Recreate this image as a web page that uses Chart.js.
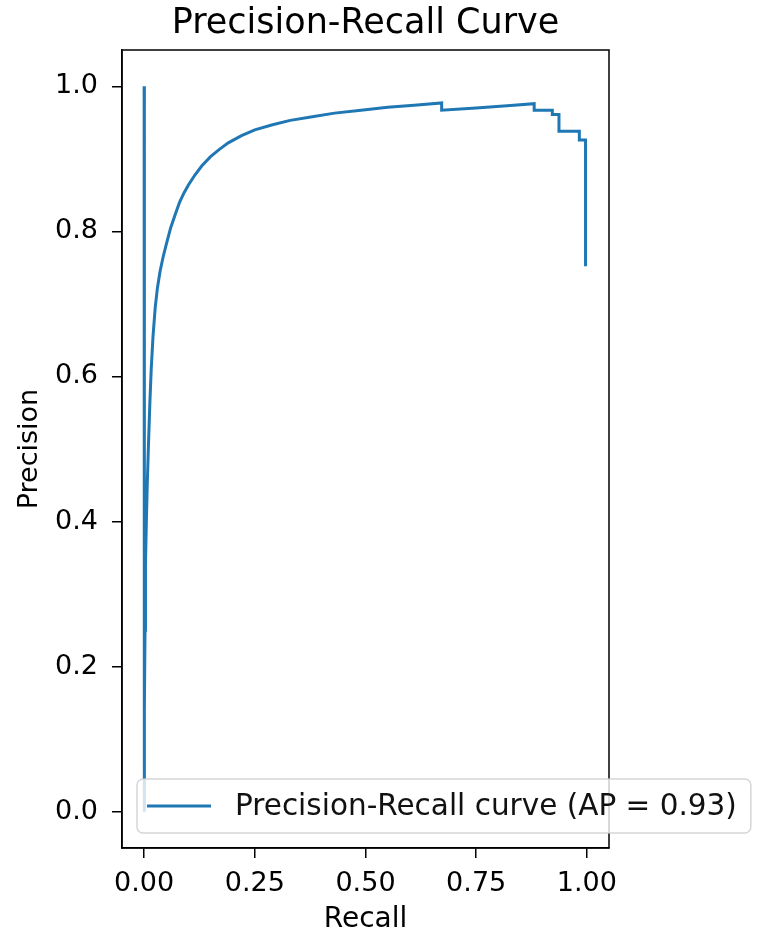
<!DOCTYPE html>
<html>
<head>
<meta charset="utf-8">
<script src="https://cdn.jsdelivr.net/npm/chart.js@4"></script>
<style>
  html, body { margin: 0; padding: 0; background: #fff; }
  #wrap { width: 764px; height: 942px; }
</style>
</head>
<body>
<div id="wrap"><canvas id="myChart"></canvas></div>
<script>
// points of the curve
const recall = [0, 0, 0.001, 0.002, 0.003, 0.005, 0.007, 0.010, 0.013, 0.016, 0.020, 0.025, 0.030, 0.036,
    0.043, 0.050, 0.060, 0.070, 0.080, 0.090, 0.100, 0.115, 0.130, 0.150, 0.170, 0.190, 0.220, 0.250,
    0.290, 0.330, 0.380, 0.430, 0.490, 0.550, 0.610, 0.672, 0.672, 0.750, 0.820, 0.881, 0.881,
    0.922, 0.922, 0.937, 0.937, 0.983, 0.983, 0.997, 0.997];
const precision = [1.0, 0.0, 0.14, 0.25, 0.34, 0.40, 0.45, 0.51, 0.565, 0.61, 0.655, 0.695, 0.722, 0.745,
    0.765, 0.782, 0.805, 0.823, 0.840, 0.853, 0.864, 0.878, 0.890, 0.903, 0.913, 0.922, 0.932, 0.940,
    0.947, 0.953, 0.958, 0.963, 0.967, 0.971, 0.974, 0.977, 0.967, 0.970, 0.973, 0.976, 0.967,
    0.967, 0.961, 0.961, 0.938, 0.938, 0.926, 0.926, 0.752];
const xTicks = [0, 0.25, 0.5, 0.75, 1.0];
const yTicks = [0, 0.2, 0.4, 0.6, 0.8, 1.0];
const seriesLabel = 'Precision-Recall curve (AP = 0.93)';
const chartTitle = 'Precision-Recall Curve';

const blue = '#1f77b4';
const font = 'DejaVu Sans';

// title over the plot, box around the plot, legend in the lower left corner
const framePlugin = {
    id: 'frame',
    afterDraw(chart) {
        const { ctx, chartArea: a } = chart;
        ctx.save();
        ctx.fillStyle = '#000';
        ctx.font = '35px "' + font + '"';
        ctx.textAlign = 'center';
        ctx.textBaseline = 'alphabetic';
        ctx.fillText(chartTitle, (a.left + a.right) / 2, 33);

        ctx.strokeStyle = '#000';
        ctx.lineWidth = 1.5;
        ctx.strokeRect(a.left, a.top, a.right - a.left, a.bottom - a.top);

        // legend
        const ds = chart.data.datasets[0];
        ctx.font = '29.5px "' + font + '"';
        ctx.textAlign = 'left';
        const textW = ctx.measureText(ds.label).width;
        const x = a.left + 15, h = 54, y = a.bottom - 15 - h;
        const w = 10 + 64 + 24 + textW + 14;
        ctx.globalAlpha = 0.8;
        ctx.fillStyle = '#fff';
        ctx.strokeStyle = '#ccc';
        ctx.lineWidth = 1.5;
        ctx.beginPath();
        ctx.roundRect(x, y, w, h, 6);
        ctx.fill();
        ctx.stroke();
        ctx.globalAlpha = 1;
        ctx.strokeStyle = ds.borderColor;
        ctx.lineWidth = 3;
        ctx.beginPath();
        ctx.moveTo(x + 10, y + h / 2);
        ctx.lineTo(x + 74, y + h / 2);
        ctx.stroke();
        ctx.fillStyle = '#111';
        ctx.textBaseline = 'middle';
        ctx.fillText(ds.label, x + 98, y + h / 2 + 1);
        ctx.restore();
    }
};

const ctx = document.getElementById('myChart').getContext('2d');

new Chart(ctx, {
    type: 'line',
    data: {
        datasets: [{
            label: seriesLabel,
            data: recall.map((r, i) => ({ x: r, y: precision[i] })),
            borderColor: blue,
            borderWidth: 3,
            pointRadius: 0,
            tension: 0,
            fill: false
        }]
    },
    options: {
        responsive: true,
        maintainAspectRatio: false,
        animation: false,
        layout: { padding: { left: 0, right: 155, top: 50, bottom: 0 } },
        plugins: {
            legend: { display: false },
            tooltip: { enabled: false },
            title: { display: false }
        },
        scales: {
            x: {
                type: 'linear',
                min: -0.05,
                max: 1.05,
                afterFit(scale) { scale.height = 94; },
                afterBuildTicks(scale) { scale.ticks = xTicks.map(v => ({ value: v })); },
                ticks: {
                    color: '#000',
                    font: { family: font, size: 27 },
                    padding: 10,
                    callback: v => v.toFixed(2)
                },
                grid: { drawOnChartArea: false, drawTicks: true, tickLength: 10, color: '#000', lineWidth: 1.5 },
                border: { display: true, color: '#000', width: 1.5 },
                title: {
                    display: true, text: 'Recall', color: '#000',
                    font: { family: font, size: 28 }, padding: { top: 0, bottom: 5 }
                }
            },
            y: {
                type: 'linear',
                min: -0.05,
                max: 1.05,
                afterFit(scale) { scale.width = 122; },
                afterBuildTicks(scale) { scale.ticks = yTicks.map(v => ({ value: v })); },
                ticks: {
                    color: '#000',
                    font: { family: font, size: 27 },
                    padding: 14,
                    callback: v => v.toFixed(1)
                },
                grid: { drawOnChartArea: false, drawTicks: true, tickLength: 10, color: '#000', lineWidth: 1.5 },
                border: { display: true, color: '#000', width: 1.5 },
                title: {
                    display: true, text: 'Precision', color: '#000',
                    font: { family: font, size: 27 }, padding: { top: 14, bottom: 0 }
                }
            }
        }
    },
    plugins: [framePlugin]
});
</script>
</body>
</html>
